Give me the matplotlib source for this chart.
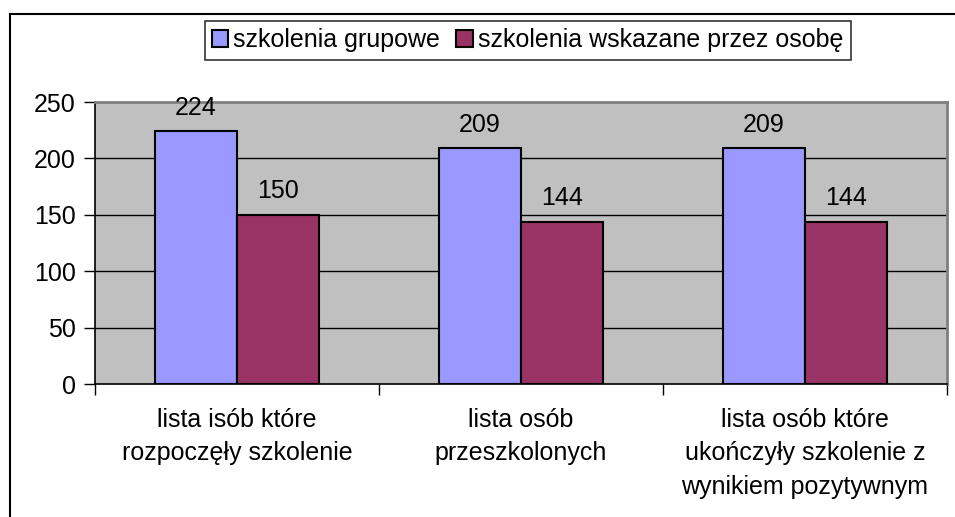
import matplotlib.pyplot as plt
import numpy as np
from matplotlib.lines import Line2D
from matplotlib.patches import Patch

plt.rcParams['font.family'] = ['Liberation Sans', 'DejaVu Sans']

categories = ["lista isób które\nrozpoczęły szkolenie",
              "lista osób\nprzeszkolonych",
              "lista osób które\nukończyły szkolenie z\nwynikiem pozytywnym"]
series_names = ["szkolenia grupowe", "szkolenia wskazane przez osobę"]
grupowe = [224, 209, 209]
wskazane = [150, 144, 144]
yticks = [0, 50, 100, 150, 200, 250]

blue = '#9999FF'
maroon = '#993366'
fs = 18

fig = plt.figure(figsize=(9.55, 5.17), dpi=100)
ax = fig.add_axes([95/955, 1-384/517, (947-95)/955, (384-102)/517])
ax.set_facecolor('#C0C0C0')

x = np.arange(len(categories))
w = 0.288
b1 = ax.bar(x - w/2, grupowe, w, color=blue, edgecolor='black', linewidth=1.5, zorder=3)
b2 = ax.bar(x + w/2, wskazane, w, color=maroon, edgecolor='black', linewidth=1.5, zorder=3)

for bars, vals in ((b1, grupowe), (b2, wskazane)):
    for r, v in zip(bars, vals):
        ax.annotate(str(v), (r.get_x() + r.get_width()/2, v), xytext=(0, 17),
                    textcoords='offset points', ha='center', va='center', fontsize=fs)

ax.set_xlim(-0.5, 2.5)
ax.set_ylim(0, 250)
ax.set_yticks(yticks)
ax.set_yticklabels([str(t) for t in yticks], fontsize=fs)
for t in yticks[1:-1]:
    ax.axhline(t, color='black', linewidth=1, zorder=1)

ax.set_xticks([-0.5, 0.5, 1.5, 2.5])
ax.set_xticklabels([])
ax.set_xticks(x, minor=True)
ax.set_xticklabels(categories, minor=True, fontsize=fs, linespacing=1.5)
ax.tick_params(axis='x', which='minor', length=0, pad=17)
ax.tick_params(axis='x', which='major', length=8, width=1, direction='out')
ax.tick_params(axis='y', length=8, width=1, direction='out', pad=6)

ax.spines['left'].set_color('black')
ax.spines['bottom'].set_color('black')
ax.spines['left'].set_linewidth(1.2)
ax.spines['bottom'].set_linewidth(1.2)
ax.spines['top'].set_color('#808080')
ax.spines['right'].set_color('#808080')
ax.spines['top'].set_linewidth(2)
ax.spines['right'].set_linewidth(2)

handles = [Patch(facecolor=blue, edgecolor='black', linewidth=1.5),
           Patch(facecolor=maroon, edgecolor='black', linewidth=1.5)]
leg = fig.legend(handles, series_names, loc='center',
                 bbox_to_anchor=((198+857)/2/955, 1-40.5/517), ncol=2, fontsize=fs,
                 frameon=True, fancybox=False, edgecolor='black', handlelength=0.65,
                 handleheight=0.65, handletextpad=0.2, columnspacing=0.65,
                 borderpad=0.3, borderaxespad=0)
leg.get_frame().set_linewidth(1.2)

# outer chart frame
fig.add_artist(Line2D([10/955, 10/955], [0, 1-14/517], transform=fig.transFigure,
                      color='black', linewidth=1.5))
fig.add_artist(Line2D([10/955, 1], [1-14/517, 1-14/517], transform=fig.transFigure,
                      color='black', linewidth=1.5))

fig.savefig('out.png', dpi=100)
